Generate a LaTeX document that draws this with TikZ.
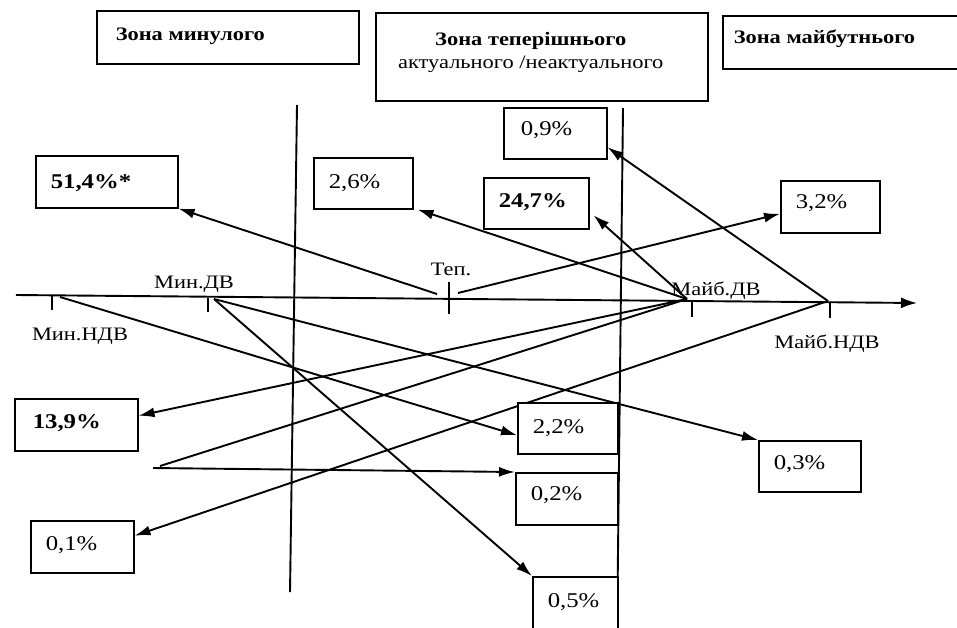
\documentclass[tikz,border=0pt]{standalone}
\usepackage{fontspec}
\setmainfont{Liberation Serif}[FakeStretch=1.18]
\usetikzlibrary{arrows.meta}
\pgfdeclarelayer{bg}
\pgfsetlayers{bg,main}
\newcommand\bxt[5]{\parbox[c][#2][t]{#1}{\hspace*{#3}\rule{0pt}{#4}#5}}
\begin{document}
\begin{tikzpicture}[x=1pt,y=-1pt,
  ln/.style={line width=1.9pt},
  arr/.style={ln,-{Latex[length=16pt,width=10pt]}},
  bx/.style={draw,line width=1.5pt,fill=white,inner sep=0pt,anchor=north west},
  pct/.style={bx,font=\fontsize{21}{24}\selectfont},
  hdr/.style={bx,font=\fontsize{19}{23}\selectfont},
  axlab/.style={anchor=base,inner sep=0pt,font=\fontsize{19}{22}\selectfont}]
\useasboundingbox (0,0) rectangle (957,627);
\clip (0,0) rectangle (957,627);

% header boxes
\node[hdr] (z1) at (96,10) {\bxt{262pt}{53pt}{19pt}{30pt}{\bfseries Зона минулого}};
\node[hdr] (z2) at (375,12) {\parbox[c][88pt][t]{332pt}{\centering\rightskip=22pt plus 1fil\relax
  \rule{0pt}{33pt}\textbf{Зона теперішнього}\\актуального /неактуального}};
\node[hdr] (z3) at (722,15) {\bxt{240pt}{53pt}{11pt}{28pt}{\bfseries Зона майбутнього}};

% percentage boxes
\node[pct] (p514) at (35,155)  {\bxt{142pt}{52pt}{15pt}{33pt}{\bfseries 51,4\%*}};
\node[pct] (p26)  at (313,157) {\bxt{99pt}{51pt}{15pt}{31pt}{2,6\%}};
\node[pct] (p09)  at (503,107) {\bxt{103pt}{51pt}{17pt}{28pt}{0,9\%}};
\node[pct] (p247) at (483,177) {\bxt{105pt}{51pt}{15pt}{30pt}{\bfseries 24,7\%}};
\node[pct] (p32)  at (780,180) {\bxt{99pt}{52pt}{15pt}{28pt}{3,2\%}};
\node[pct] (p139) at (14,398)  {\bxt{123pt}{52pt}{18pt}{30pt}{\bfseries 13,9\%}};
\node[pct] (p01)  at (30,520)  {\bxt{103pt}{52pt}{15pt}{30pt}{0,1\%}};
\node[pct] (p22)  at (517,402) {\bxt{100pt}{51pt}{15pt}{31pt}{2,2\%}};
\node[pct] (p02)  at (515,472) {\bxt{102pt}{52pt}{15pt}{28pt}{0,2\%}};
\node[pct] (p05)  at (532,576) {\bxt{85pt}{70pt}{15pt}{31pt}{0,5\%}};
\node[pct] (p03)  at (758,440) {\bxt{102pt}{51pt}{15pt}{29pt}{0,3\%}};

% axis labels
\node[axlab] (lMN) at (80,340)  {Мин.НДВ};
\node[axlab] (lMD) at (194,288) {Мин.ДВ};
\node[axlab] (lT)  at (451,275) {Теп.};
\node[axlab] (lFD) at (716,295) {Майб.ДВ};
\node[axlab] (lFN) at (827,348) {Майб.НДВ};

% coordinates
\coordinate (axs) at (16,295);
\coordinate (axe) at (917,303);
\coordinate (kMN) at (52,296);
\coordinate (kMD) at (208,297.5);
\coordinate (kT)  at (449,282);
\coordinate (kFD) at (692,300);
\coordinate (kFN) at (830,301.5);
\coordinate (v1t) at (297,105);
\coordinate (v1b) at (290,592);
\coordinate (v2t) at (623,108);
\coordinate (v2b) at (617,640);
\coordinate (sTL) at (437,294);
\coordinate (sTR) at (458,293);
\coordinate (sFD) at (687,299);
\coordinate (sFN) at (828,301);
\coordinate (sMN) at (60,297);
\coordinate (sMD) at (214,299);
\coordinate (eFree) at (160,466);
\coordinate (sH) at (153,468);

\begin{pgfonlayer}{bg}
\fill[white] (0,0) rectangle (957,627);
% axis, ticks, zone borders
\draw[ln,-{Latex[length=16pt,width=11pt]}] (axs) -- (axe);
\draw[ln] (kMN) -- ++(0,14);
\draw[ln] (kMD) -- ++(0,14);
\draw[ln] (kT) -- ++(0,32);
\draw[ln] (kFD) -- ++(0,17);
\draw[ln] (kFN) -- ++(0,16);
\draw[ln] (v1t) -- (v1b);
\draw[ln] (v2t) -- (v2b);
% connectors
\draw[arr] (sTL) -- (p514.south east);
\draw[arr] (sFD) -- ([xshift=4pt]p26.south east);
\draw[arr] (sFD) -- ([xshift=4pt,yshift=-12pt]p247.east);
\draw[arr] (sTR) -- ([yshift=-7pt]p32.west);
\draw[arr] (sFN) -- ([yshift=-14pt]p09.east);
\draw[arr] (sFD) -- ([yshift=9pt]p139.east);
\draw[ln]  (sFD) -- (eFree);
\draw[arr] (sFN) -- ([yshift=11pt]p01.east);
\draw[arr] (sH) -- (p02.north west);
\draw[arr] (sMN) -- ([yshift=-7pt]p22.west);
\draw[arr] (sMD) -- (p03.north west);
\draw[arr] (sMD) -- (p05.north west);
\end{pgfonlayer}
\end{tikzpicture}
\end{document}
